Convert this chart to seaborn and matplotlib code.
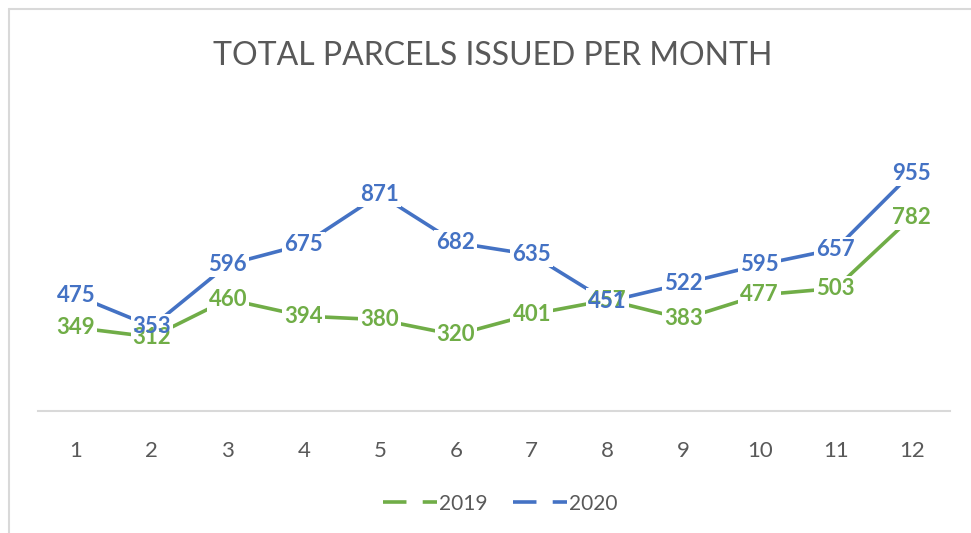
import matplotlib
matplotlib.use("Agg")
import matplotlib.pyplot as plt
import seaborn as sns
import pandas as pd
from matplotlib.lines import Line2D

months = [1, 2, 3, 4, 5, 6, 7, 8, 9, 10, 11, 12]
parcels_2019 = [349, 312, 460, 394, 380, 320, 401, 457, 383, 477, 503, 782]
parcels_2020 = [475, 353, 596, 675, 871, 682, 635, 451, 522, 595, 657, 955]
years = ["2019", "2020"]
colors = {"2019": "#70AD47", "2020": "#4472C4"}

df = pd.DataFrame({
    "month": months * 2,
    "parcels": parcels_2019 + parcels_2020,
    "year": ["2019"] * 12 + ["2020"] * 12,
})

sns.set_style("white")
plt.rcParams["font.family"] = ["Lato", "DejaVu Sans"]
grey = "#595959"

fig = plt.figure(figsize=(9.71, 5.33), dpi=100)
ax = fig.add_axes([0.039, 0.229, 0.939, 0.574])

sns.lineplot(data=df, x="month", y="parcels", hue="year", palette=colors,
             linewidth=2.6, ax=ax, legend=False, zorder=2)

# data labels centred on the points, with white boxes that cut the lines
for yr, vals in [("2019", parcels_2019), ("2020", parcels_2020)]:
    for m, v in zip(months, vals):
        ax.text(m, v, str(v), ha="center", va="center", fontsize=16,
                fontweight="bold", color="none", zorder=3,
                bbox=dict(facecolor="white", edgecolor="none", pad=1.5))
for yr, vals in [("2019", parcels_2019), ("2020", parcels_2020)]:
    for m, v in zip(months, vals):
        ax.text(m, v, str(v), ha="center", va="center", fontsize=16,
                fontweight="bold", color=colors[yr], zorder=4)

ax.set_xlim(0.5, 12.5)
ax.set_ylim(22, 1222)
ax.set_xticks(months)
ax.set_xticklabels([str(m) for m in months], fontsize=16, color=grey)
ax.set_yticks([])
ax.set_xlabel("")
ax.set_ylabel("")
ax.tick_params(axis="x", length=0, pad=22)
for s in ["top", "right", "left"]:
    ax.spines[s].set_visible(False)
ax.spines["bottom"].set_color("#D9D9D9")
ax.spines["bottom"].set_linewidth(1.5)

fig.text(0.507, 0.895, "TOTAL PARCELS ISSUED PER MONTH", ha="center",
         va="center", fontsize=23, color=grey)

handles = [Line2D([], [], color=colors[y], linewidth=2.6, dashes=(6.5, 4.5))
           for y in years]
leg = fig.legend(handles, years, loc="center", bbox_to_anchor=(0.515, 0.055),
                 ncol=2, frameon=False, fontsize=15, handlelength=2.6,
                 handletextpad=0.1, columnspacing=1.2)
for t in leg.get_texts():
    t.set_color(grey)

# light chart-area frame (top and left edges visible)
fig.add_artist(Line2D([9 / 971, 1], [1 - 9 / 533, 1 - 9 / 533],
                      transform=fig.transFigure, color="#D9D9D9", linewidth=1.5))
fig.add_artist(Line2D([9 / 971, 9 / 971], [0, 1 - 9 / 533],
                      transform=fig.transFigure, color="#D9D9D9", linewidth=1.5))

fig.savefig("out.png", dpi=100, facecolor="white")
